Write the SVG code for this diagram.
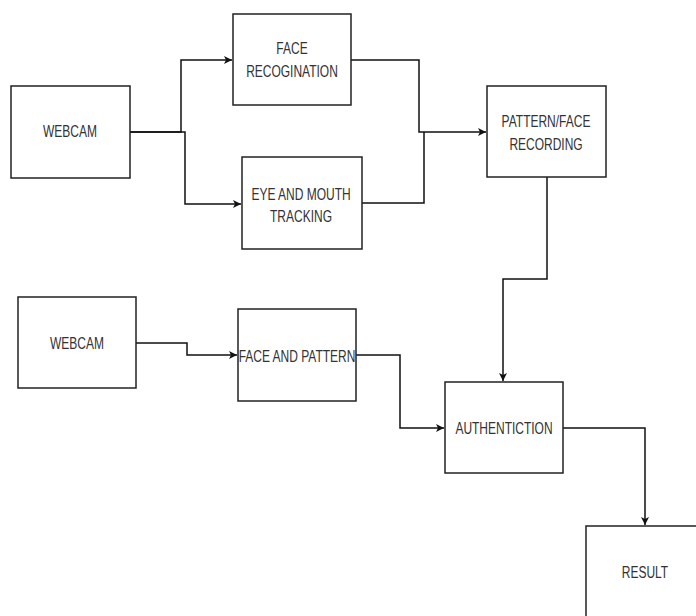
<svg xmlns="http://www.w3.org/2000/svg" width="696" height="616" viewBox="0 0 696 616">
<style>
.box{fill:#fff;stroke:#222;stroke-width:1.5}
.lbl{font-family:"Liberation Sans",Arial,sans-serif;font-size:12px;fill:#333;text-anchor:middle}
.c{fill:none;stroke:#111;stroke-width:1.5}
</style>
<defs>
<marker id="ah" viewBox="0 0 10 10" refX="10" refY="5" markerWidth="8" markerHeight="8" markerUnits="userSpaceOnUse" orient="auto">
<path d="M0,0 L10,5 L0,10 L2.5,5 Z" fill="#111"/>
</marker>
</defs>
<rect width="696" height="616" fill="#fff"/>
<g id="connectors">
<path class="c" d="M130,132 H181 V60 H232" marker-end="url(#ah)"/>
<path class="c" d="M130,132 H185 V204 H241" marker-end="url(#ah)"/>
<path class="c" d="M351,60 H419 V132 H486" marker-end="url(#ah)"/>
<path class="c" d="M362,203 H424 V132"/>
<path class="c" d="M547,177 V279 H503 V381" marker-end="url(#ah)"/>
<path class="c" d="M136,343 H187 V355 H237" marker-end="url(#ah)"/>
<path class="c" d="M356,355 H400 V428 H444" marker-end="url(#ah)"/>
<path class="c" d="M563,428 H645 V525" marker-end="url(#ah)"/>
</g>
<g id="webcam1">
<rect class="box" x="11" y="86" width="119" height="92"/>
<text class="lbl" transform="translate(70,137) scale(1,1.4)">WEBCAM</text>
</g>
<g id="face-recognition">
<rect class="box" x="233" y="14" width="118" height="91"/>
<text class="lbl" transform="translate(292,54) scale(1,1.4)">FACE</text>
<text class="lbl" transform="translate(292,77) scale(1,1.4)">RECOGINATION</text>
</g>
<g id="eye-mouth">
<rect class="box" x="242" y="157" width="120" height="92"/>
<text class="lbl" transform="translate(301,200) scale(1,1.4)">EYE AND MOUTH</text>
<text class="lbl" transform="translate(301,222) scale(1,1.4)">TRACKING</text>
</g>
<g id="pattern-face">
<rect class="box" x="487" y="86" width="119" height="91"/>
<text class="lbl" transform="translate(546,127) scale(1,1.4)">PATTERN/FACE</text>
<text class="lbl" transform="translate(546,150) scale(1,1.4)">RECORDING</text>
</g>
<g id="webcam2">
<rect class="box" x="18" y="297" width="118" height="91"/>
<text class="lbl" transform="translate(77,349) scale(1,1.4)">WEBCAM</text>
</g>
<g id="face-pattern">
<rect class="box" x="238" y="309" width="118" height="92"/>
<text class="lbl" transform="translate(297,362) scale(1,1.4)">FACE AND PATTERN</text>
</g>
<g id="authentication">
<rect class="box" x="445" y="382" width="118" height="91"/>
<text class="lbl" transform="translate(504,434) scale(1,1.4)">AUTHENTICTION</text>
</g>
<g id="result">
<rect class="box" x="586" y="526" width="120" height="100"/>
<text class="lbl" transform="translate(645,578) scale(1,1.4)">RESULT</text>
</g>
</svg>
